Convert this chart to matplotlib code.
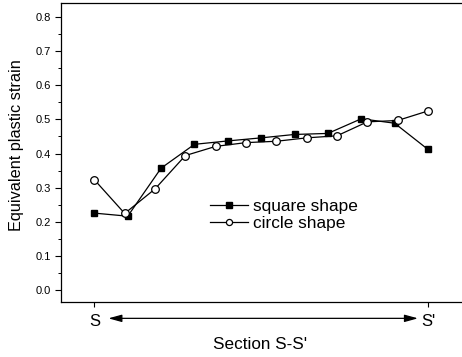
import numpy as np
import matplotlib.pyplot as plt
from matplotlib.ticker import MultipleLocator

plt.rcParams['font.family'] = ['Liberation Sans', 'DejaVu Sans']

# -------------------------------
# Data
# -------------------------------
square_strain = [0.225, 0.216, 0.357, 0.427, 0.437, 0.446, 0.456, 0.459, 0.502, 0.489, 0.412]
circle_strain = [0.323, 0.224, 0.296, 0.394, 0.421, 0.432, 0.436, 0.446, 0.452, 0.493, 0.497, 0.525]
section_ticks = [0, 1]
section_labels = ["S", "S'"]

# positions along the section, evenly spaced from S to S'
x_square = np.linspace(0, 1, len(square_strain))
x_circle = np.linspace(0, 1, len(circle_strain))

# -------------------------------
# Figure
# -------------------------------
fig = plt.figure(figsize=(4.62, 3.57), dpi=100)
ax = fig.add_axes([61/462, 55/357, 401/462, 299/357])

ax.plot(x_square, square_strain, color='black', lw=0.9, marker='s',
        markersize=5, markerfacecolor='black', label='square shape')
ax.plot(x_circle, circle_strain, color='black', lw=0.9, marker='o',
        markersize=5.5, markerfacecolor='white', markeredgewidth=0.9,
        label='circle shape')

ax.set_xlim(-0.1, 1.102)
ax.set_ylim(-0.036, 0.842)

ax.spines['right'].set_visible(False)
for s in ['left', 'top', 'bottom']:
    ax.spines[s].set_linewidth(0.9)

ax.yaxis.set_major_locator(MultipleLocator(0.1))
ax.yaxis.set_minor_locator(MultipleLocator(0.05))
ax.yaxis.set_major_formatter(plt.FuncFormatter(lambda v, p: f"{v:.1f}"))
ax.tick_params(axis='y', which='major', direction='out', length=4.3, width=0.8,
               pad=3.2, labelsize=8)
ax.tick_params(axis='y', which='minor', direction='out', length=2.5, width=0.7)

ax.set_xticks(section_ticks)
ax.set_xticklabels(section_labels)
ax.tick_params(axis='x', direction='out', length=3.5, width=0.8, pad=5.5,
               labelsize=12)

ax.set_ylabel("Equivalent plastic strain", fontsize=11.7)
ax.yaxis.set_label_coords(-0.093, 0.525)
ax.set_xlabel("Section S-S'", fontsize=12.3)
ax.xaxis.set_label_coords(0.496, -0.118)

# double arrow between S and S'
ax.annotate('', xy=(0.97, -0.084), xytext=(0.042, -0.084),
            xycoords='data', annotation_clip=False,
            arrowprops=dict(arrowstyle='<|-|>,head_length=0.8,head_width=0.22',
                            color='black', lw=0.9, shrinkA=0, shrinkB=0))

leg = ax.legend(loc='upper left', bbox_to_anchor=(0.372, 0.343), frameon=False,
                fontsize=12.4, handlelength=2.2, handletextpad=0.3,
                labelspacing=0.08, borderpad=0, borderaxespad=0,
                markerscale=0.8)

fig.savefig('out.png', dpi=100)
